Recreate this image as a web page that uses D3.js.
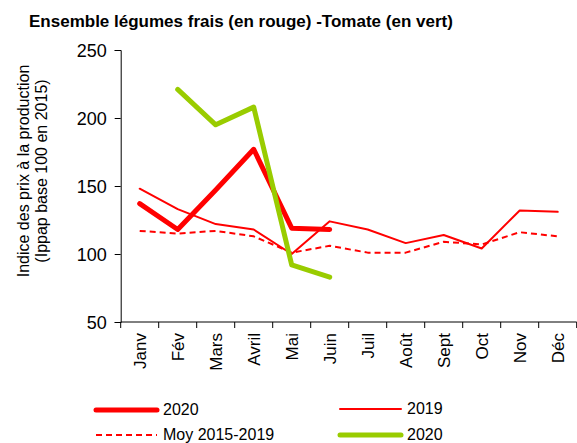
<!DOCTYPE html>
<html>
<head>
<meta charset="utf-8">
<script src="https://cdn.jsdelivr.net/npm/d3@7"></script>
<style>
  body { margin: 0; background: #fff; }
  text { font-family: "Liberation Sans", Arial, sans-serif; fill: #000; }
</style>
</head>
<body>
<div id="chart"></div>
<script>
var WIDTH = 577
var HEIGHT = 443

// data
var months = ['Janv', 'Fév', 'Mars', 'Avril', 'Mai', 'Juin', 'Juil', 'Août', 'Sept', 'Oct', 'Nov', 'Déc'];
var legumes2020 = [137, 118, 147, 177, 119, 118];
var legumes2019 = [148, 133, 122, 118, 100, 124, 118, 108, 114, 104, 132, 131];
var moyenne = [117, 115, 117, 113, 101, 106, 101, 101, 109, 107, 116, 113];
var tomate2020 = [null, 221, 195, 208, 92, 83];
var yTicks = [50, 100, 150, 200, 250];

var svg = d3.select('#chart').append('svg')
    .attr('width', WIDTH)
    .attr('height', HEIGHT);

var x = d3.scaleBand().domain(months).range([120.7, 576.7]);
var y = d3.scaleLinear().domain([50, 250]).range([322, 50]);

// title
svg.append('text')
    .attr('x', 29)
    .attr('y', 27)
    .attr('font-size', 17)
    .attr('font-weight', 'bold')
    .text('Ensemble légumes frais (en rouge) -Tomate (en vert)');

// y axis
var yAxis = svg.append('g')
    .attr('transform', 'translate(120.7,0)')
    .call(d3.axisLeft(y).tickValues(yTicks).tickSize(6).tickPadding(8));
yAxis.select('.domain').attr('stroke', '#000');
yAxis.selectAll('text').attr('font-size', 18).attr('dy', '0.36em');

// x axis, ticks between categories
var xAxis = svg.append('g')
    .attr('transform', 'translate(0,322)');
xAxis.append('line')
    .attr('x1', x.range()[0]).attr('x2', x.range()[1])
    .attr('stroke', '#000');
xAxis.selectAll('line.tick')
    .data(d3.range(months.length + 1))
    .enter()
    .append('line')
    .attr('class', 'tick')
    .attr('x1', d => x.range()[0] + d * x.step())
    .attr('x2', d => x.range()[0] + d * x.step())
    .attr('y1', 0).attr('y2', 6)
    .attr('stroke', '#000');
xAxis.selectAll('text')
    .data(months)
    .enter()
    .append('text')
    .attr('transform', d => 'translate(' + (x(d) + x.bandwidth() / 2) + ',11) rotate(-90)')
    .attr('text-anchor', 'end')
    .attr('dy', '0.36em')
    .attr('font-size', 17)
    .text(d => d);

// y axis title
var yTitle = svg.append('text')
    .attr('transform', 'translate(29,171) rotate(-90)')
    .attr('text-anchor', 'middle')
    .attr('font-size', 16);
yTitle.append('tspan').attr('x', 0).attr('dy', 0).text('Indice des prix à la production');
yTitle.append('tspan').attr('x', 0).attr('dy', 18).text('(Ippap base 100 en 2015)');

var line = d3.line()
    .defined(d => d != null)
    .x((d, i) => x(months[i]) + x.bandwidth() / 2)
    .y(d => y(d));

var series = [
    { values: moyenne, color: '#ff0000', width: 2, dash: '6,4' },
    { values: legumes2019, color: '#ff0000', width: 2, dash: null },
    { values: legumes2020, color: '#ff0000', width: 5, dash: null },
    { values: tomate2020, color: '#99cc00', width: 5, dash: null }
];

svg.selectAll('path.serie')
    .data(series)
    .enter()
    .append('path')
    .attr('class', 'serie')
    .attr('d', d => line(d.values))
    .attr('fill', 'none')
    .attr('stroke', d => d.color)
    .attr('stroke-width', d => d.width)
    .attr('stroke-dasharray', d => d.dash)
    .attr('stroke-linejoin', 'round')
    .attr('stroke-linecap', d => d.dash ? 'butt' : 'round');

// legend
var legend = [
    { label: '2020', color: '#ff0000', width: 5, dash: null, x: 96, y: 410 },
    { label: '2019', color: '#ff0000', width: 2, dash: null, x: 340, y: 409 },
    { label: 'Moy 2015-2019', color: '#ff0000', width: 2, dash: '6,4', x: 96, y: 435 },
    { label: '2020', color: '#99cc00', width: 5, dash: null, x: 340, y: 435 }
];
var lg = svg.selectAll('g.legend')
    .data(legend)
    .enter()
    .append('g')
    .attr('class', 'legend')
    .attr('transform', d => 'translate(' + d.x + ',' + d.y + ')');
lg.append('line')
    .attr('x1', 0).attr('x2', 61)
    .attr('stroke', d => d.color)
    .attr('stroke-width', d => d.width)
    .attr('stroke-dasharray', d => d.dash)
    .attr('stroke-linecap', d => d.dash ? 'butt' : 'round');
lg.append('text')
    .attr('x', 67)
    .attr('dy', '0.32em')
    .attr('font-size', 16)
    .text(d => d.label);
</script>
</body>
</html>
